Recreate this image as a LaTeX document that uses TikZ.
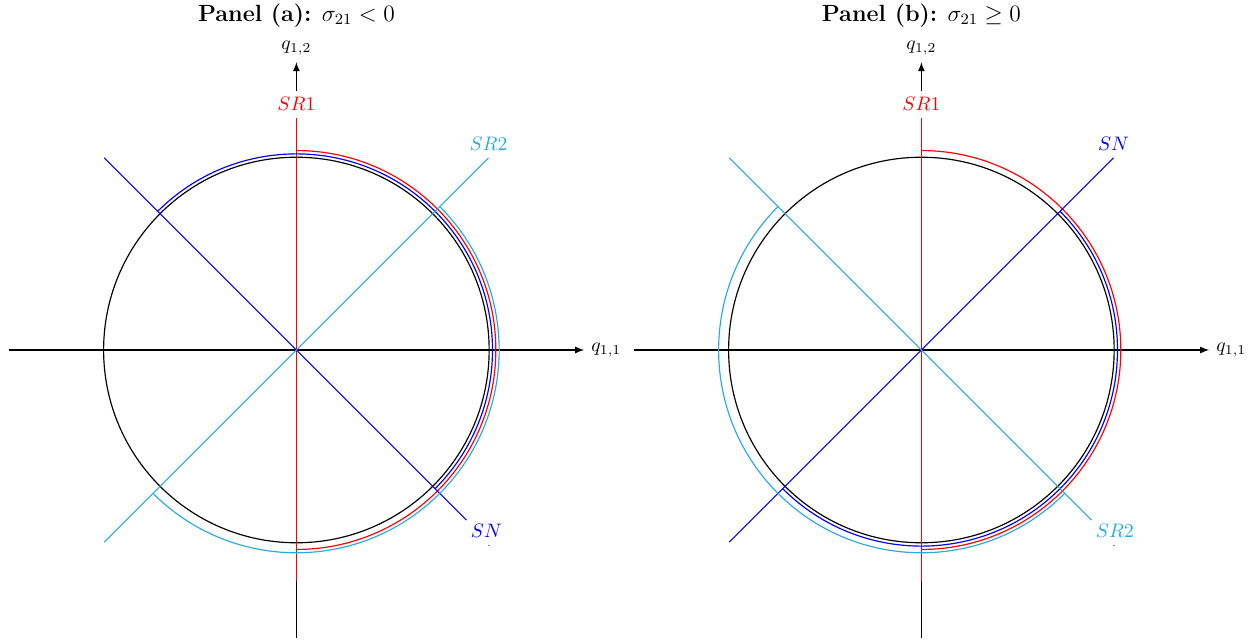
\documentclass[tikz,border=0pt]{standalone}
\usepackage{amsmath}
\definecolor{srcyan}{RGB}{41,171,226}

\begin{document}
\begin{tikzpicture}[>=latex,semithick]
\useasboundingbox (-5.335cm,-5.27cm) rectangle (17.345cm,6.3cm);
%
% Panel (a)
\node[inner sep=0pt] at (0,6.02cm) (title0) {\large\textbf{Panel (a):} $\sigma_{21} < 0$};
\draw[->] (-5.18cm,0) -- (5.18cm,0) node[right] (qx0) {$q_{1,1}$};
\draw (0,-5.18cm) -- (0,-4.15cm);
\draw[->] (0,4.66cm) -- (0,5.18cm) node[above] (qy0) {$q_{1,2}$};
\draw (0,0) circle (3.47cm);
% SR1
\draw[red] (0,-4.15cm) -- (0,4.18cm) node[above] (srone0) {$SR1$};
\draw[red] (90:3.59cm) arc (90:-90:3.59cm);
% SN
\draw[blue] (135:4.89cm) -- (-45:4.33cm) node[anchor=north west,inner sep=2pt] (sn0) {$SN$};
\draw[blue] (135:3.53cm) arc (135:-45:3.53cm);
\node[inner sep=0pt,font=\tiny] at (3.47cm,-3.53cm) (sndot0) {.};
% SR2
\draw[srcyan] (225:4.89cm) -- (45:4.89cm) node[above] (srtwo0) {$SR2$};
\draw[srcyan] (45:3.65cm) arc (45:-135:3.65cm);

%
% Panel (b)
\begin{scope}[xshift=11.25cm]
\node[inner sep=0pt] at (0,6.02cm) (title1) {\large\textbf{Panel (b):} $\sigma_{21} \geq 0$};
\draw[->] (-5.18cm,0) -- (5.18cm,0) node[right] (qx1) {$q_{1,1}$};
\draw (0,-5.18cm) -- (0,-4.15cm);
\draw[->] (0,4.66cm) -- (0,5.18cm) node[above] (qy1) {$q_{1,2}$};
\draw (0,0) circle (3.47cm);
% SR1
\draw[red] (0,-4.15cm) -- (0,4.18cm) node[above] (srone1) {$SR1$};
\draw[red] (90:3.59cm) arc (90:-90:3.59cm);
% SN
\draw[blue] (225:4.89cm) -- (45:4.89cm) node[above] (sn1) {$SN$};
\draw[blue] (45:3.53cm) arc (45:-135:3.53cm);
% SR2
\draw[srcyan] (135:4.89cm) -- (-45:4.33cm) node[anchor=north west,inner sep=2pt] (srtwo1) {$SR2$};
\draw[srcyan] (135:3.65cm) arc (135:315:3.65cm);
\node[inner sep=0pt,font=\tiny] at (3.47cm,-3.53cm) (srtwodot1) {.};
\end{scope}
\end{tikzpicture}
\end{document}
